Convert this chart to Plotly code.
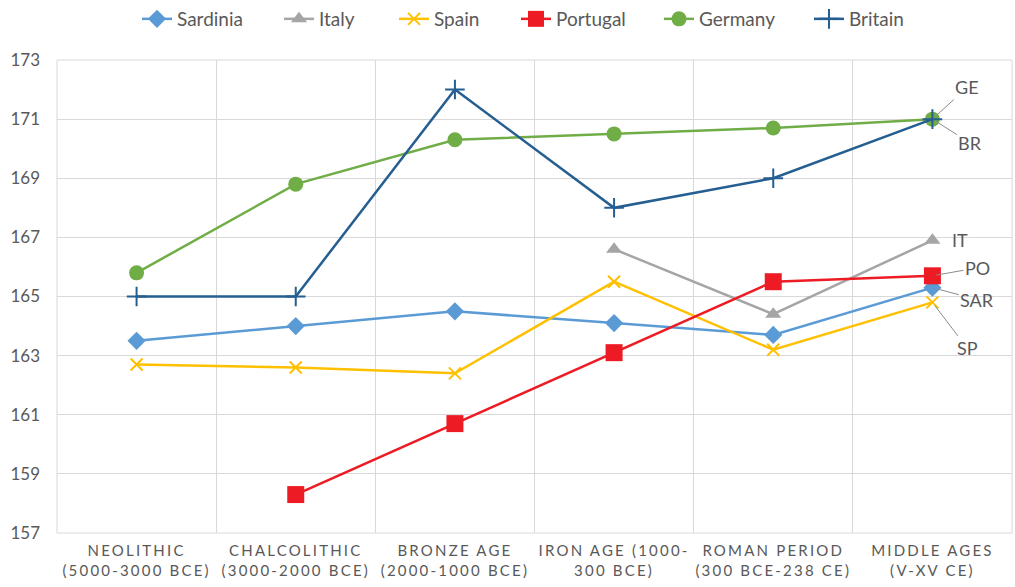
import plotly.graph_objects as go

categories = ["NEOLITHIC<br>(5000-3000 BCE)", "CHALCOLITHIC<br>(3000-2000 BCE)",
              "BRONZE AGE<br>(2000-1000 BCE)", "IRON AGE (1000-<br>300 BCE)",
              "ROMAN PERIOD<br>(300 BCE-238 CE)", "MIDDLE AGES<br>(V-XV CE)"]
sardinia = [163.5, 164.0, 164.5, 164.1, 163.7, 165.3]
italy = [None, None, None, 166.6, 164.4, 166.9]
spain = [162.7, 162.6, 162.4, 165.5, 163.2, 164.8]
portugal = [None, 158.3, 160.7, 163.1, 165.5, 165.7]
germany = [165.8, 168.8, 170.3, 170.5, 170.7, 171.0]
britain = [165.0, 165.0, 172.0, 168.0, 169.0, 171.0]
y_ticks = [157, 159, 161, 163, 165, 167, 169, 171, 173]

series = [
    ("Sardinia", sardinia, "#5B9BD5", "diamond", 14, "SAR"),
    ("Italy", italy, "#A5A5A5", "triangle-up", 14, "IT"),
    ("Spain", spain, "#FFC000", "x-thin", 12, "SP"),
    ("Portugal", portugal, "#ED1C24", "square", 17, "PO"),
    ("Germany", germany, "#70AD47", "circle", 15, "GE"),
    ("Britain", britain, "#255E91", "cross-thin", 14, "BR"),
]

W, H = 1015, 587
legend_px = [137, 279, 394, 516, 659, 809]

fig = go.Figure()
layout_legends = {}
for i, (name, vals, color, sym, size, short) in enumerate(series):
    marker = dict(symbol=sym, size=size, color=color)
    if "thin" in sym:
        marker["line"] = dict(color=color, width=2)
    lg = "legend" if i == 0 else f"legend{i + 1}"
    fig.add_trace(go.Scatter(x=categories, y=vals, name=name, mode="lines+markers",
                             line=dict(color=color, width=2.5), marker=marker,
                             connectgaps=False, legend=lg))
    layout_legends[lg] = dict(orientation="h", xref="container", yref="container",
                              x=legend_px[i] / W, xanchor="left",
                              y=1.0, yanchor="top",
                              font=dict(size=19, color="#595959", family="Lato"),
                              bgcolor="rgba(0,0,0,0)", borderwidth=0)

label_offsets = {"GE": (35, -32), "BR": (38, 24), "IT": (28, 0),
                 "PO": (45, -8), "SAR": (45, 12), "SP": (35, 46)}
arrow_show = {"GE": True, "BR": True, "IT": False, "PO": True, "SAR": True, "SP": True}
for name, vals, color, sym, size, short in series:
    ax, ay = label_offsets[short]
    fig.add_annotation(x=categories[-1], y=vals[-1], text=short, showarrow=True,
                       arrowhead=0, arrowwidth=1,
                       arrowcolor="#8C8C8C" if arrow_show[short] else "rgba(0,0,0,0)",
                       ax=ax, ay=ay, font=dict(size=18, color="#595959", family="Lato"),
                       standoff=4)

fig.update_layout(
    width=W, height=H,
    margin=dict(l=57, r=3, t=60, b=54),
    paper_bgcolor="white", plot_bgcolor="white",
    font=dict(family="Lato", color="#595959"),
    showlegend=True,
    **layout_legends,
)
fig.update_xaxes(type="category", tickson="boundaries", showgrid=True, gridcolor="#D9D9D9",
                 gridwidth=1, showline=False, ticks="", zeroline=False,
                 tickfont=dict(size=15, color="#595959", family="Lato"),
                 ticklabelstandoff=7,
                 range=[-0.5, 5.5], automargin=False)
fig.update_yaxes(range=[157, 173], tickvals=y_ticks, showgrid=True, gridcolor="#D9D9D9",
                 gridwidth=1, zeroline=False, showline=False, ticks="",
                 ticklabelstandoff=16,
                 tickfont=dict(size=17, color="#595959", family="Lato"), automargin=False)
fig.add_shape(type="rect", xref="paper", yref="paper", x0=0, x1=1, y0=0, y1=1,
              line=dict(color="#D9D9D9", width=1), layer="below")

post = ("document.body.style.margin='0';"
        "document.querySelectorAll('.xtick text').forEach(function(t){"
        "t.style.letterSpacing='2.2px';});")
fig.write_html("out.html", post_script=post, config={"displayModeBar": False})
